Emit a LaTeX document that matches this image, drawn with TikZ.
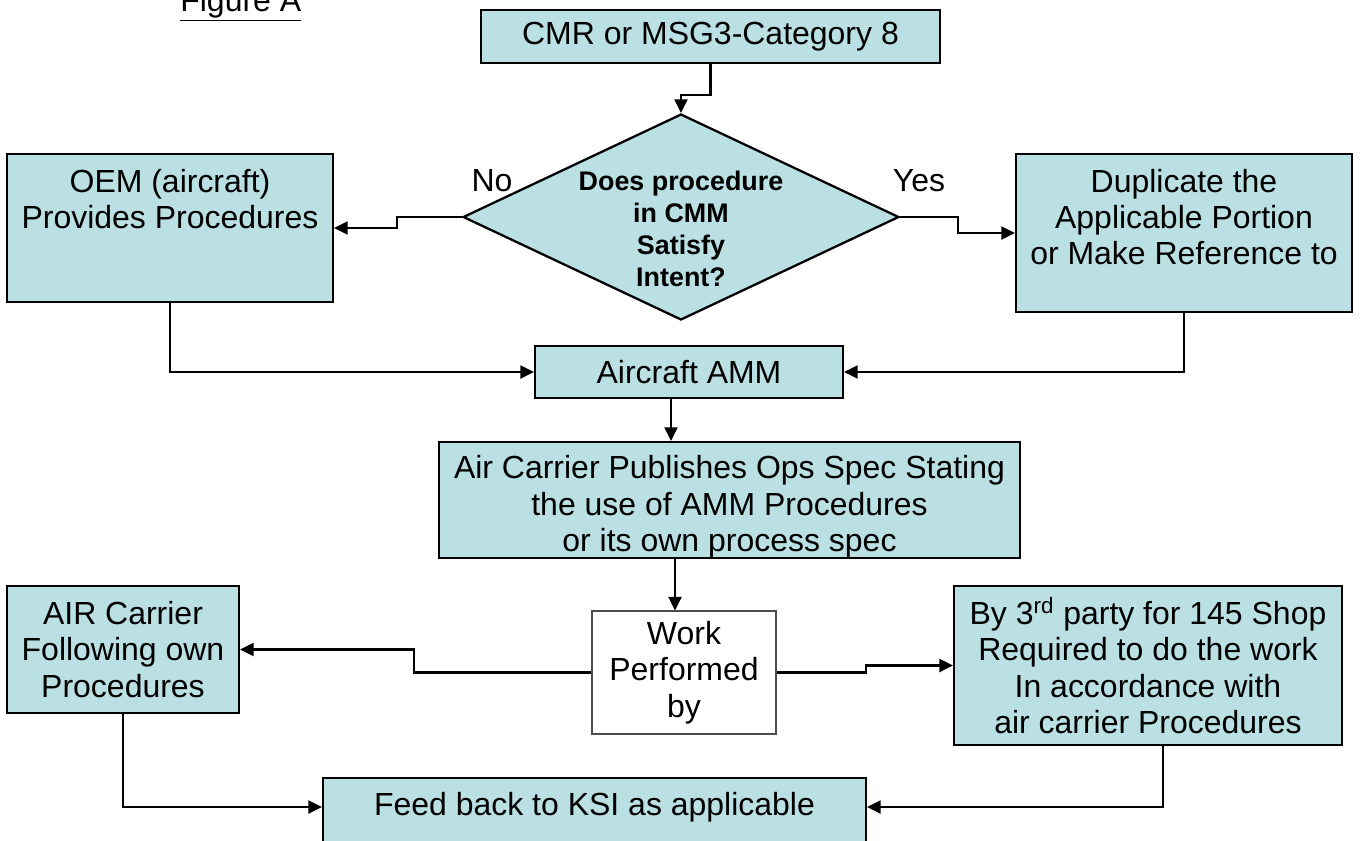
\documentclass[tikz,border=0pt]{standalone}
\usepackage{fontspec}
\setmainfont{Liberation Sans}
\usetikzlibrary{shapes.geometric,arrows.meta}
\definecolor{boxblue}{RGB}{187,224,227}

\begin{document}
\begin{tikzpicture}[x=0.02cm, y=-0.02cm,
        font=\fontsize{18.2}{20.7}\selectfont,
        box/.style={draw, line width=1.3pt, fill=boxblue, inner sep=0pt, align=center},
        txt/.style={align=center, inner sep=0pt},
        arr/.style={-{Triangle[length=0.27cm, width=0.26cm]}, line width=1.2pt}]
        \useasboundingbox (0,0) rectangle (1369,840);

        % Title
        \node[anchor=base west, inner sep=0pt] (figtitle) at (180,11) {\underline{Figure A}};

        % Start and decision
        \node[box, minimum width=9.18cm, minimum height=1.06cm] (cmr) at (710.5,36.5) {CMR or MSG3-Category 8};
        \node[draw, line width=1.3pt, fill=boxblue, shape=diamond, inner sep=0pt,
              minimum width=8.72cm, minimum height=4.12cm] (dec) at (681,217) {};
        \node[txt, font=\fontsize{15.3}{18.2}\selectfont\bfseries] (dectext) at (681,229) {Does procedure\\in CMM\\Satisfy\\Intent?};
        \node[txt] (no) at (492,181) {No};
        \node[txt] (yes) at (919,181) {Yes};

        % Procedure sources
        \node[box, minimum width=6.52cm, minimum height=2.96cm] (oem) at (170,228) {};
        \node[txt] (oemtext) at (170,199) {OEM (aircraft)\\Provides Procedures};
        \node[box, minimum width=6.72cm, minimum height=3.16cm] (dup) at (1184,233) {};
        \node[txt] (duptext) at (1184,217) {Duplicate the\\Applicable Portion\\or Make Reference to};

        % AMM and ops spec
        \node[box, minimum width=6.16cm, minimum height=1.04cm] (amm) at (689,372) {Aircraft AMM};
        \node[box, minimum width=11.62cm, minimum height=2.32cm] (pub) at (729.5,500) {};
        \node[txt] (pubtext) at (729.5,507) {Air Carrier Publishes Ops Spec Stating\\the use of AMM Procedures\\or its own process spec};

        % Who does the work
        \node[draw=black!70, line width=0.7pt, fill=white, align=center, inner sep=0pt,
              minimum width=3.68cm, minimum height=2.46cm] (work) at (684,672.5) {Work\\Performed\\by};
        \node[box, minimum width=4.64cm, minimum height=2.54cm] (air) at (123,649.5) {AIR Carrier\\Following own\\Procedures};
        \node[box, minimum width=7.76cm, minimum height=3.18cm] (third) at (1148,665.5) {By 3\textsuperscript{rd} party for 145 Shop\\Required to do the work\\In accordance with\\air carrier Procedures};

        % Feedback
        \node[box, minimum width=10.86cm, minimum height=1.8cm] (feed) at (594.5,823) {};
        \node[txt] (feedtext) at (594.5,807) {Feed back to KSI as applicable};

        % Connections
        \coordinate (ammout) at ([xshift=-0.36cm]amm.south);
        \coordinate (pubout) at ([xshift=-1.09cm]pub.south);
        \coordinate (thirdout) at ([xshift=0.3cm]third.south);
        \draw[arr] (cmr.south) -- ++(0,31) -| (dec.north);
        \draw[arr] (dec.west) -- ++(-65,0) |- (oem.east);
        \draw[arr] (dec.east) -- ++(58,0) |- (dup.west);
        \draw[arr] (oem.south) |- (amm.west);
        \draw[arr] (dup.south) |- (amm.east);
        \draw[arr] (ammout) -- (ammout |- pub.north);
        \draw[arr] (pubout) -- (pubout |- work.north);
        \draw[arr] (work.west) -- ++(-177,0) |- (air.east);
        \draw[arr] (work.east) -- ++(89,0) |- (third.west);
        \draw[arr] (air.south) |- (feed.west |- feedtext.center);
        \draw[arr] (thirdout) |- (feed.east |- feedtext.center);
    \end{tikzpicture}
\end{document}
